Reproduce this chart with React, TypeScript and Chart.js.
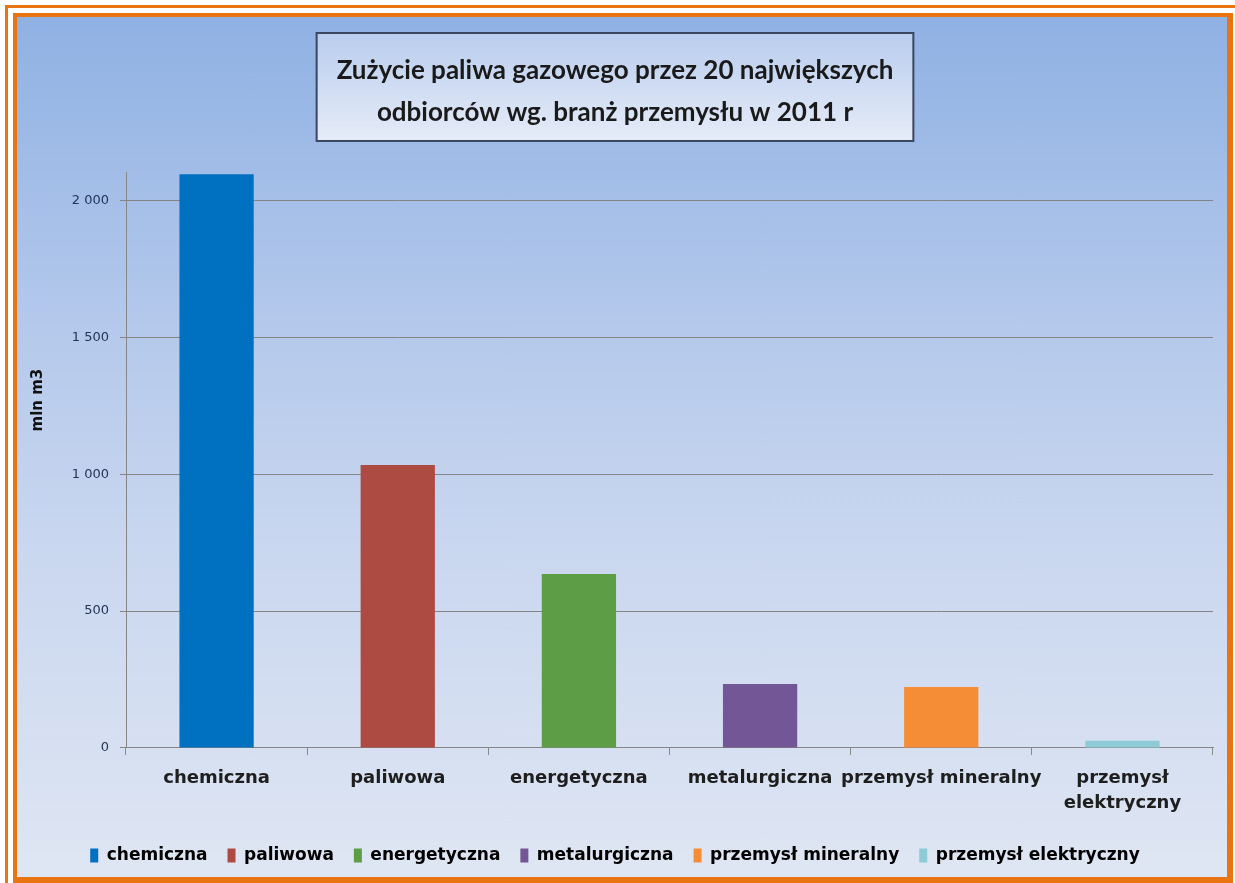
import React, { useEffect, useRef } from "react";
import { Chart, registerables } from "chart.js";

Chart.register(...registerables);

const categories: (string | string[])[] = [
  "chemiczna",
  "paliwowa",
  "energetyczna",
  "metalurgiczna",
  "przemysł mineralny",
  ["przemysł", "elektryczny"],
];
const legendNames = [
  "chemiczna",
  "paliwowa",
  "energetyczna",
  "metalurgiczna",
  "przemysł mineralny",
  "przemysł elektryczny",
];
const values = [2095, 1033, 635, 234, 223, 26];
const barColors = ["#0070c0", "#ad4a42", "#5c9d46", "#735696", "#f58d37", "#8ecbd6"];
const yTicks = [0, 500, 1000, 1500, 2000];
const titleLines = ["Zużycie paliwa gazowego przez 20 największych", "odbiorców wg. branż przemysłu w 2011 r"];
const yTitle = "mln m3";

const TITLE_FONT = { family: "Lato", size: 26, weight: "bold" as const, lineHeight: 1.615 };
const TITLE_PAD_TOP = 33;

const decorPlugin = {
  id: "decor",
  beforeDraw(chart: any) {
    const ctx = chart.ctx;
    const tb = chart.titleBlock;
    if (!tb) return;
    ctx.save();
    ctx.font = `bold ${TITLE_FONT.size}px ${TITLE_FONT.family}`;
    let w = 0;
    for (const l of titleLines) w = Math.max(w, ctx.measureText(l).width);
    const lh = TITLE_FONT.size * TITLE_FONT.lineHeight;
    const cx = tb.left + tb.width / 2;
    const bw = w + 40;
    const bx = cx - bw / 2;
    const by = tb.top + TITLE_PAD_TOP - 17;
    const bh = lh * titleLines.length + 24;
    const g = ctx.createLinearGradient(0, by, 0, by + bh);
    g.addColorStop(0, "#b9cdee");
    g.addColorStop(1, "#e6ecf8");
    ctx.fillStyle = g;
    ctx.fillRect(bx, by, bw, bh);
    ctx.strokeStyle = "#3b4660";
    ctx.lineWidth = 2;
    ctx.strokeRect(bx, by, bw, bh);
    ctx.restore();
  },
  afterDraw(chart: any) {
    const ctx = chart.ctx;
    const ca = chart.chartArea;
    ctx.save();
    ctx.translate(ca.left - 88, ca.top + (ca.bottom - ca.top) * 0.395);
    ctx.rotate(-Math.PI / 2);
    ctx.font = "bold 15px 'DejaVu Sans'";
    ctx.fillStyle = "#111111";
    ctx.textAlign = "center";
    ctx.textBaseline = "middle";
    ctx.fillText(yTitle, 0, 0);
    ctx.restore();
  },
};

export default function App() {
  const ref = useRef<HTMLCanvasElement | null>(null);
  useEffect(() => {
    if (!ref.current) return;
    const chart = new Chart(ref.current, {
      type: "bar",
      data: {
        labels: categories,
        datasets: [
          {
            label: "mln m3",
            data: values,
            backgroundColor: barColors,
            borderWidth: 0,
            categoryPercentage: 1,
            barPercentage: 0.41,
          },
        ],
      },
      plugins: [decorPlugin],
      options: {
        responsive: false,
        animation: false,
        layout: { padding: { left: 0, right: 14, top: 0, bottom: 3 } },
        plugins: {
          title: {
            display: true,
            text: titleLines,
            color: "#1a1a1a",
            font: TITLE_FONT,
            padding: { top: TITLE_PAD_TOP, bottom: 39 },
          },
          legend: {
            display: true,
            position: "bottom",
            labels: {
              font: { family: "DejaVu Sans", size: 17, weight: "bold" },
              color: "#222222",
              boxWidth: 8,
              boxHeight: 14,
              padding: 20,
              generateLabels: () =>
                legendNames.map((n, i) => ({
                  text: n,
                  fillStyle: barColors[i],
                  strokeStyle: barColors[i],
                  lineWidth: 0,
                  hidden: false,
                  index: i,
                  datasetIndex: 0,
                })),
            },
            onClick: () => {},
          },
          tooltip: { enabled: false },
        },
        scales: {
          x: {
            offset: true,
            grid: {
              display: true,
              drawOnChartArea: false,
              drawTicks: true,
              tickLength: 7,
              color: "#8a8a8a",
              offset: true,
            },
            border: { display: true, color: "#868686", width: 1 },
            ticks: {
              color: "#1e1e1e",
              font: { family: "DejaVu Sans", size: 18, weight: "bold", lineHeight: 1.39 },
              padding: 11,
              maxRotation: 0,
              autoSkip: false,
            },
          },
          y: {
            min: 0,
            max: 2100,
            afterFit: (s: any) => {
              s.width = 109;
            },
            afterBuildTicks: (s: any) => {
              s.ticks = yTicks.map((v) => ({ value: v }));
            },
            grid: {
              color: "#858585",
              lineWidth: 1,
              drawTicks: true,
              tickLength: 6,
            },
            border: { display: true, color: "#868686", width: 1 },
            ticks: {
              color: "#233456",
              font: { family: "DejaVu Sans", size: 13 },
              padding: 11,
              callback: (v: any) => {
                const n = Number(v);
                return n >= 1000 ? `${Math.floor(n / 1000)} ${String(n % 1000).padStart(3, "0")}` : String(n);
              },
            },
          },
        },
      },
    });
    return () => chart.destroy();
  }, []);

  return (
    <div style={{ position: "absolute", left: 0, top: 0, width: 1235, height: 883, background: "#ffffff", overflow: "hidden" }}>
      <div
        style={{
          position: "absolute",
          left: 5,
          top: 5,
          width: 1240,
          height: 890,
          border: "3px solid #e87511",
          boxSizing: "border-box",
        }}
      />
      <div
        style={{
          position: "absolute",
          left: 13,
          top: 13,
          width: 1220,
          height: 870,
          borderLeft: "4px solid #e87511",
          borderTop: "4px solid #e87511",
          borderRight: "6px solid #e87511",
          borderBottom: "6px solid #e87511",
          boxSizing: "border-box",
          background: "linear-gradient(to bottom, #8fb1e3 0%, #b3c8eb 35%, #c8d6ef 60%, #dfe6f3 100%)",
        }}
      >
        <canvas ref={ref} width={1210} height={860} style={{ display: "block", position: "absolute", left: 0, top: 0 }} />
      </div>
    </div>
  );
}
